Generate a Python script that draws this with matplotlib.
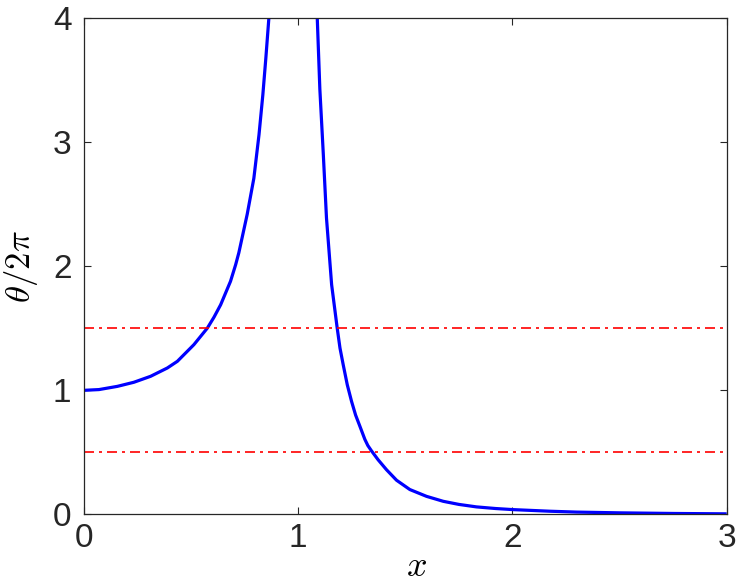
import numpy as np
import matplotlib
matplotlib.use('Agg')
import matplotlib.pyplot as plt

# values
x_left = [0.0, 0.07, 0.156, 0.233, 0.311, 0.389, 0.436, 0.513, 0.576, 0.607, 0.638,
          0.684, 0.708, 0.723, 0.762, 0.793, 0.817, 0.835, 0.849, 0.863, 0.868]
y_left = [1.0, 1.006, 1.032, 1.065, 1.113, 1.18, 1.234, 1.368, 1.502, 1.59, 1.69,
          1.879, 2.013, 2.11, 2.42, 2.71, 3.061, 3.384, 3.68, 4.0, 4.12]

x_right = [1.086, 1.089, 1.101, 1.117, 1.132, 1.156, 1.182, 1.195, 1.210, 1.229,
           1.249, 1.268, 1.288, 1.311, 1.325, 1.342, 1.373, 1.412, 1.459, 1.521, 1.599,
           1.677, 1.75, 1.832, 1.92, 2.003, 2.175, 2.3, 2.5, 2.75, 3.0]
y_right = [4.12, 4.0, 3.43, 2.91, 2.39, 1.852, 1.502, 1.341, 1.207, 1.045,
           0.911, 0.80, 0.71, 0.605, 0.555, 0.512, 0.44, 0.36, 0.275, 0.20, 0.145,
           0.105, 0.08, 0.06, 0.047, 0.038, 0.025, 0.018, 0.012, 0.007, 0.004]

levels = [0.5, 1.5]
xticks = [0, 1, 2, 3]
yticks = [0, 1, 2, 3, 4]

plt.rcParams['mathtext.fontset'] = 'cm'
plt.rcParams['font.family'] = ['Liberation Sans', 'DejaVu Sans']

fig = plt.figure(figsize=(7.47, 5.87), dpi=100)
ax = fig.add_axes([0.1124, 0.1238, 0.8604, 0.845])

ax.plot(x_left, y_left, color=(0, 0, 1), lw=2.3, solid_capstyle='butt',
        solid_joinstyle='round')
ax.plot(x_right, y_right, color=(0, 0, 1), lw=2.3, solid_capstyle='butt',
        solid_joinstyle='round')
for lv in levels:
	ax.axhline(lv, color=(1, 0, 0), lw=1.2, dashes=(6, 3, 1.8, 3))

ax.set_xlim(0, 3)
ax.set_ylim(0, 4)
ax.set_xticks(xticks)
ax.set_yticks(yticks)
ax.tick_params(direction='in', length=5, width=0.8, color='#262626',
               labelsize=24, labelcolor='#262626', top=True, right=True)
ax.tick_params(axis='x', pad=6)
ax.tick_params(axis='y', pad=9)
for s in ax.spines.values():
	s.set_color('#262626')
	s.set_linewidth(0.9)

ax.set_xlabel(r'$x$', fontsize=26)
ax.set_ylabel(r'$\theta/2\pi$', fontsize=25)
ax.xaxis.set_label_coords(0.517, -0.069)
ax.yaxis.set_label_coords(-0.068, 0.5)

fig.savefig('out.png', dpi=100)
